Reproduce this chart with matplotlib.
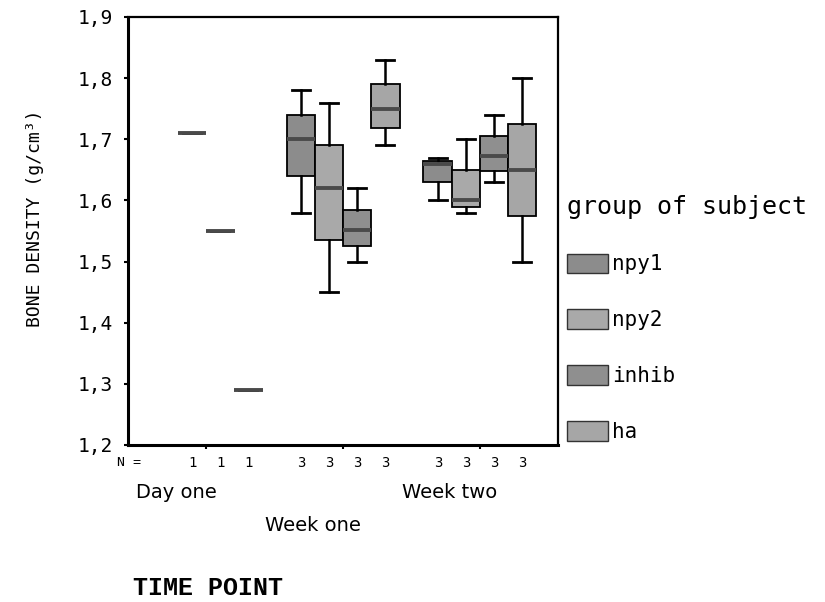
import matplotlib
matplotlib.use("Agg")
import matplotlib.pyplot as plt
from matplotlib.patches import Patch
from matplotlib.transforms import blended_transform_factory

plt.rcParams["font.family"] = ["DejaVu Sans Mono", "DejaVu Sans"]

# --- data ------------------------------------------------------------------
time_points = ["Day one", "Week one", "Week two"]
groups = ["npy1", "npy2", "inhib", "ha"]

# (whisker low, q1, median, q3, whisker high); None = no subjects
npy1_stats = [None, (1.58, 1.64, 1.70, 1.74, 1.78), (1.60, 1.63, 1.66, 1.665, 1.67)]
npy2_stats = [(1.71, 1.71, 1.71, 1.71, 1.71), (1.45, 1.535, 1.62, 1.69, 1.76), (1.58, 1.59, 1.60, 1.65, 1.70)]
inhib_stats = [(1.55, 1.55, 1.55, 1.55, 1.55), (1.50, 1.525, 1.552, 1.585, 1.62), (1.63, 1.648, 1.672, 1.705, 1.74)]
ha_stats = [(1.29, 1.29, 1.29, 1.29, 1.29), (1.69, 1.718, 1.75, 1.79, 1.83), (1.50, 1.575, 1.65, 1.725, 1.80)]

n_npy1 = [0, 3, 3]
n_npy2 = [1, 3, 3]
n_inhib = [1, 3, 3]
n_ha = [1, 3, 3]

y_ticks = [1.2, 1.3, 1.4, 1.5, 1.6, 1.7, 1.8, 1.9]

all_stats = [npy1_stats, npy2_stats, inhib_stats, ha_stats]
all_n = [n_npy1, n_npy2, n_inhib, n_ha]
box_colors = ["#8c8c8c", "#a9a9a9", "#8f8f8f", "#a6a6a6"]

slot = 0.205
offsets = [-1.5 * slot, -0.5 * slot, 0.5 * slot, 1.5 * slot]

fig = plt.figure(figsize=(8.25, 6.02), dpi=100)
ax = fig.add_axes([0.1552, 0.2608, 0.5212, 0.711])

for g, (stats, color, off) in enumerate(zip(all_stats, box_colors, offsets)):
    bxp_stats = []
    pos = []
    for t, s in enumerate(stats):
        if s is None:
            continue
        lo, q1, med, q3, hi = s
        bxp_stats.append({"whislo": lo, "q1": q1, "med": med, "q3": q3, "whishi": hi, "fliers": []})
        pos.append(t + off)
    ax.bxp(
        bxp_stats,
        positions=pos,
        widths=0.21,
        capwidths=0.13,
        patch_artist=True,
        manage_ticks=False,
        boxprops=dict(facecolor=color, edgecolor="black", linewidth=1.3),
        medianprops=dict(color="#4a4a4a", linewidth=2.8),
        whiskerprops=dict(color="black", linewidth=1.8),
        capprops=dict(color="black", linewidth=2.0),
    )

ax.set_xlim(-0.57, 2.57)
ax.set_ylim(1.2, 1.9)
ax.set_yticks(y_ticks)
ax.set_yticklabels([f"{v:.1f}".replace(".", ",") for v in y_ticks], fontsize=14)
ax.set_xticks([0, 1, 2])
ax.set_xticklabels([])
ax.tick_params(axis="both", direction="out", length=3, width=1.5)
ax.tick_params(axis="y", pad=8)
for side in ["left", "bottom"]:
    ax.spines[side].set_linewidth(2.2)
for side in ["top", "right"]:
    ax.spines[side].set_linewidth(1.6)

ax.set_ylabel("BONE DENSITY (g/cm³)", fontsize=13)
ax.yaxis.set_label_coords(-0.195, 0.53)

# N counts under each box
trans = blended_transform_factory(ax.transData, ax.transAxes)
ax.text(-0.565, -0.042, "N =", transform=trans, fontsize=9.5, ha="center", va="center")
for n_list, off in zip(all_n, offsets):
    for t, n in enumerate(n_list):
        if n > 0:
            ax.text(t + off, -0.042, str(n), transform=trans, fontsize=10, ha="center", va="center")

# staggered category labels
label_rows = [-0.112, -0.187, -0.112]
for t, (name, row) in enumerate(zip(time_points, label_rows)):
    ax.text(t - 0.22, row, name, transform=trans, fontsize=14, ha="center", va="center",
            family="DejaVu Sans")

fig.text(133 / 825, 1 - 588 / 602, "TIME POINT", fontsize=18, fontweight="bold",
         family="Liberation Mono", ha="left", va="center")

handles = [Patch(facecolor=c, edgecolor="#333333", linewidth=1.0) for c in box_colors]
leg = ax.legend(
    handles, groups,
    title="group of subject",
    loc="upper left",
    bbox_to_anchor=(1.02, 0.585),
    frameon=False,
    fontsize=15,
    title_fontsize=18,
    handlelength=1.97,
    handleheight=1.06,
    handletextpad=0.2,
    labelspacing=1.68,
    borderpad=0,
    borderaxespad=0,
    alignment="left",
)

fig.savefig("out.png", dpi=100)
